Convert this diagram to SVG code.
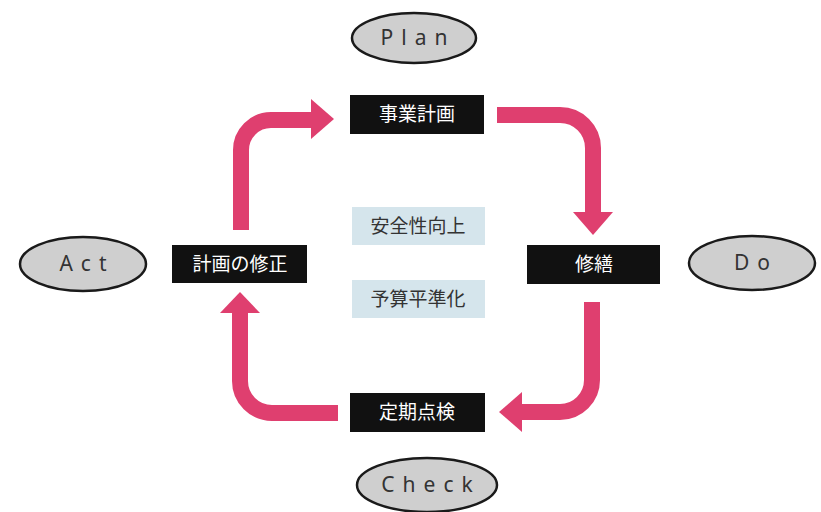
<svg xmlns="http://www.w3.org/2000/svg" width="821" height="512" viewBox="0 0 821 512">
<style>
.ell{fill:#cfcfcf;stroke:#1a1a1a;stroke-width:2.5}
.elt{font-family:"Noto Sans","Open Sans",sans-serif;font-size:21px;fill:#333;letter-spacing:8px;text-anchor:middle}
.blk{fill:#111}
.bt{font-family:"Noto Sans CJK JP",sans-serif;font-size:19px;fill:#fff;text-anchor:middle}
.lb{fill:#d5e5ec}
.lt{font-family:"Noto Sans CJK JP",sans-serif;font-size:19px;fill:#333;text-anchor:middle}
.arr{fill:none;stroke:#df3f6f;stroke-width:16}
.head{fill:#df3f6f}
</style>
<rect width="821" height="512" fill="#fff"/>
<g id="connectors">
<path class="arr" d="M241 230 V150 A30 30 0 0 1 271 120 H312"/>
<polygon class="head" points="311,99 334,119 311,139"/>
<path class="arr" d="M497 115 H560 A33 33 0 0 1 593 148 V213"/>
<polygon class="head" points="573,212 613,212 593,235"/>
<path class="arr" d="M592 302 V380 A32 32 0 0 1 560 412 H521"/>
<polygon class="head" points="522,392 522,432 499,412"/>
<path class="arr" d="M338 413 H272 A32 32 0 0 1 240 381 V311"/>
<polygon class="head" points="220,313 260,313 240,292"/>
</g>
<g id="plan"><ellipse class="ell" cx="414" cy="38" rx="62" ry="25"/><text class="elt" x="418" y="45">Plan</text></g>
<g id="do"><ellipse class="ell" cx="752" cy="263" rx="63" ry="27"/><text class="elt" x="756" y="270">Do</text></g>
<g id="act"><ellipse class="ell" cx="83" cy="264" rx="63" ry="27"/><text class="elt" x="87" y="271">Act</text></g>
<g id="check"><ellipse class="ell" cx="427" cy="485" rx="70" ry="27"/><text class="elt" x="431" y="492">Check</text></g>
<g id="jigyo"><rect class="blk" x="350" y="95" width="134" height="39"/><text class="bt" x="417" y="121">事業計画</text></g>
<g id="shuzen"><rect class="blk" x="527" y="245" width="133" height="39"/><text class="bt" x="594" y="271">修繕</text></g>
<g id="teiki"><rect class="blk" x="350" y="393" width="135" height="39"/><text class="bt" x="417" y="419">定期点検</text></g>
<g id="shusei"><rect class="blk" x="172" y="245" width="135" height="38"/><text class="bt" x="240" y="271">計画の修正</text></g>
<g id="anzen"><rect class="lb" x="352" y="207" width="133" height="38"/><text class="lt" x="418" y="233">安全性向上</text></g>
<g id="yosan"><rect class="lb" x="352" y="280" width="133" height="38"/><text class="lt" x="418" y="306">予算平準化</text></g>
</svg>
